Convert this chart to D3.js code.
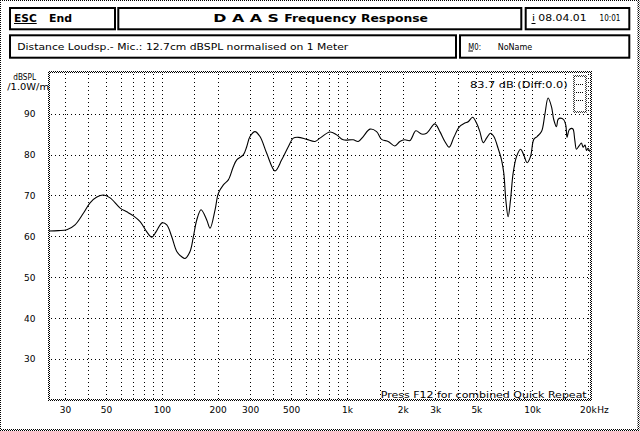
<!DOCTYPE html>
<html><head><meta charset="utf-8">
<script src="https://cdn.jsdelivr.net/npm/d3@7"></script>
<style>
html,body{margin:0;padding:0;background:#fff;}
svg{display:block;}
text{font-family:"DejaVu Sans",sans-serif;fill:#000;}
</style></head>
<body>
<script>
// ---- data ----
const freqs = [24.6,27.6,30.7,34.0,37.8,41.0,44.6,48.4,52.6,59.6,64.7,70.3,76.4,83.0,88.3,93.1,100.4,106.4,113.2,120.5,128.2,133.6,142.1,148.1,154.5,163.0,174.9,182.3,194.0,202.1,215.1,228.8,243.4,254.0,275.6,287.5,299.6,318.7,339.2,368.7,408.8,444.3,482.3,513.2,546.1,606.0,672.0,714.9,809.6,879.9,955,1081,1151,1225,1331,1446,1538,1670,1815,1931,2055,2187,2356,2529,2692,2985,3175,3379,3566,3779,4036,4333,4516,4769,5010,5222,5443,5675,5964,6214,6554,6837,7035,7212,7423,7646,7896,8238,8658,9016,9396,9804,10211,10640,11237,11710,12198,12725,13092,13543,13813,14231,14826,15200,15446,15835,16315,16641,17000,17363,17932,18476,18847,19320,19660,20055,20484];
const splValues = [61.3,61.4,61.6,62.8,65.7,68.2,69.6,70.1,69.4,66.9,66.0,65.0,63.6,61.1,59.8,61.1,63.3,62.8,59.9,56.3,55.0,54.6,56.3,59.9,64.0,66.5,64.0,62.0,66.5,70.5,72.6,73.8,77.0,78.7,79.9,81.9,84.4,85.6,84.4,80.3,76.0,78.7,81.9,84.0,84.2,83.7,83.2,84.0,85.5,84.8,83.6,83.6,83.2,84.4,86.2,85.6,83.7,83.2,82.1,83.2,83.6,83.4,85.8,85.0,85.2,87.5,85.6,83.2,81.8,84.2,86.7,87.7,88.0,89.1,87.7,85.6,82.9,84.0,85.2,84.4,81.5,78.7,75.4,68.9,64.8,68.9,75.4,79.5,81.3,79.9,78.0,79.5,83.7,84.4,85.6,89.7,93.8,91.7,88.5,86.8,88.6,88.9,88.5,87.2,84.2,86.0,86.4,86.2,83.6,81.3,82.1,82.8,81.8,82.3,81.0,81.5,80.7];
const xTickValues = [30,50,100,200,300,500,1000,2000,3000,5000,10000,20000];
const xTickLabels = ["30","50","100","200","300","500","1k","2k","3k","5k","10k","20k"];
const xGridValues = [30,40,50,60,70,80,90,100,150,200,300,400,500,600,700,800,900,1000,1500,2000,3000,4000,5000,6000,7000,8000,9000,10000,15000,20000];
const yTickValues = [30,40,50,60,70,80,90];
const headerTitle = ["D A A S", "Frequency Response"];
const infoText = "Distance Loudsp.- Mic.: 12.7cm dBSPL normalised on 1 Meter";
const dateText = ["08.04.01", "10:01"];
const refText = "83.7 dB (Diff:0.0)";
const footText = "Press F12 for combined Quick Repeat";

// ---- drawing ----
const W = 640, H = 431;
const svg = d3.select("body").append("svg").attr("width", W).attr("height", H);
const defs = svg.append("defs");
const pat = defs.append("pattern").attr("id","checker").attr("patternUnits","userSpaceOnUse")
  .attr("width",2).attr("height",2);
pat.append("rect").attr("x",0).attr("y",0).attr("width",1).attr("height",1).attr("fill","#000");
pat.append("rect").attr("x",1).attr("y",1).attr("width",1).attr("height",1).attr("fill","#000");
defs.append("clipPath").attr("id","plotclip").append("rect")
  .attr("x",49).attr("y",72.7).attr("width",542).attr("height",327.3);

svg.append("rect").attr("width",W).attr("height",H).attr("fill","#fff");
// outer frame
svg.append("rect").attr("x",0).attr("y",0).attr("width",638.5).attr("height",430)
  .attr("fill","none").attr("stroke","url(#checker)").attr("stroke-width",2);

function box(x0,y0,x1,y1){
  svg.append("rect").attr("x",x0+1).attr("y",y0+1).attr("width",x1-x0-2).attr("height",y1-y0-2)
    .attr("fill","none").attr("stroke","#000").attr("stroke-width",2);
}
box(9,7,116,30.3);
box(117.3,7,522.3,30.3);
box(524.7,7,630.3,30.3);
box(9,34.3,457,58.7);
box(459,34.3,630.3,58.7);

function txt(x,y,s,opt){
  opt = opt||{};
  const t = svg.append("text").attr("x",x).attr("y",y).text(s)
    .attr("font-size",opt.size||9.5)
    .attr("font-weight",opt.bold?"bold":"normal");
  if(opt.len){ t.attr("textLength",opt.len).attr("lengthAdjust","spacingAndGlyphs"); }
  if(opt.anchor) t.attr("text-anchor",opt.anchor);
  return t;
}
function uline(x0,x1,y){
  svg.append("line").attr("x1",x0).attr("x2",x1).attr("y1",y+0.5).attr("y2",y+0.5)
    .attr("stroke","#000").attr("stroke-width",1);
}
txt(14,21.5,"ESC",{bold:true,len:22.7,size:10.5}); uline(14,36.7,23);
txt(49,21.5,"End",{bold:true,len:23,size:10.5});
txt(213.3,21.5,headerTitle[0],{bold:true,len:65.7,size:10.5});
txt(284.3,21.5,headerTitle[1],{bold:true,len:143.7,size:10.5});
txt(532,21,"i",{len:3,size:9.5}); uline(531.5,535.5,23);
txt(538.3,21,dateText[0],{len:48.4,size:9.5});
txt(599.5,21,dateText[1],{len:21,size:9.5});
txt(17.3,49.5,infoText,{len:331,size:9.5});
txt(468.3,49.5,"M0:",{len:12.7,size:9.5}); uline(468.3,473,50.5);
txt(497.7,49.5,"NoName",{len:34.6,size:9.5});

// scales
const x = d3.scaleLog().domain([24.6,20800]).range([49,591]);
const y = d3.scaleLinear().domain([20,100]).range([400,72.7]);

// grid
const grid = svg.append("g").attr("stroke","#000").attr("stroke-width",1).attr("stroke-dasharray","1,3");
grid.selectAll("line.v").data(xGridValues).enter().append("line")
  .attr("x1",d=>Math.round(x(d))+0.5).attr("x2",d=>Math.round(x(d))+0.5)
  .attr("y1",74).attr("y2",399);
grid.selectAll("line.h").data(yTickValues).enter().append("line")
  .attr("y1",d=>Math.round(y(d))+0.5).attr("y2",d=>Math.round(y(d))+0.5)
  .attr("x1",51).attr("x2",590);

// plot frame
svg.append("rect").attr("x",49).attr("y",72).attr("width",542).attr("height",328)
  .attr("fill","none").attr("stroke","url(#checker)").attr("stroke-width",2);

// small indicator in top-right
svg.append("rect").attr("x",574).attr("y",76).attr("width",12).attr("height",36)
  .attr("fill","none").attr("stroke","url(#checker)").attr("stroke-width",1.5);
[84,92,100].forEach(v=>{
  svg.append("line").attr("x1",576).attr("x2",584).attr("y1",v+0.5).attr("y2",v+0.5)
    .attr("stroke","#000").attr("stroke-dasharray","1,1");
});

// axes
const yAxis = d3.axisLeft(y).tickValues(yTickValues).tickSize(0).tickPadding(0).tickFormat(d3.format("d"));
const gy = svg.append("g").attr("transform","translate(35.5,0)").call(yAxis);
gy.select(".domain").remove();
gy.selectAll("text").attr("font-family","DejaVu Sans").attr("font-size",9).attr("fill","#000");

const xAxis = d3.axisBottom(x).tickValues(xTickValues).tickSize(0).tickPadding(0)
  .tickFormat((d,i)=>xTickLabels[i]);
const gx = svg.append("g").attr("transform","translate(0,413)").call(xAxis);
gx.select(".domain").remove();
gx.selectAll("text").attr("dy",0).attr("font-family","DejaVu Sans").attr("font-size",9).attr("fill","#000");
txt(x(20000)+9.5,413,"Hz",{size:9});

txt(13.3,80,"dBSPL",{size:9,len:22.7});
txt(7.3,90,"/1.0W/m",{size:9,len:41.7});
txt(470,88.3,refText,{size:9,len:97.7});
txt(380.7,398,footText,{size:9.5,len:206});

// curve
const pts = freqs.map((f,i)=>({f:f,db:splValues[i]}));
const line = d3.line().x(d=>x(d.f)).y(d=>y(d.db)).curve(d3.curveCatmullRom.alpha(0.5));
svg.append("path").datum(pts).attr("d",line).attr("fill","none")
  .attr("stroke","#000").attr("stroke-width",1.1).attr("clip-path","url(#plotclip)");
</script>
</body></html>
